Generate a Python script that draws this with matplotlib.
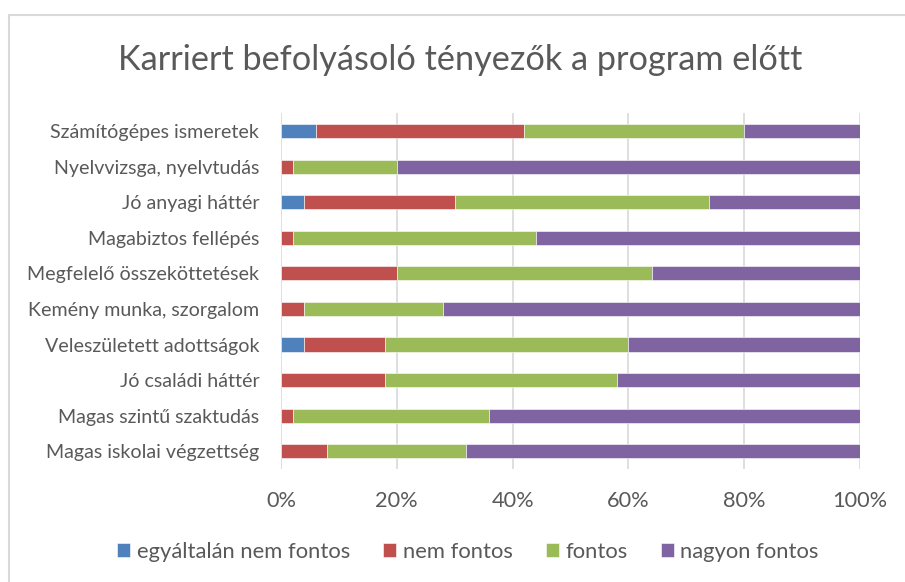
import matplotlib
matplotlib.use("Agg")
import matplotlib.pyplot as plt
from matplotlib.patches import Rectangle
import numpy as np

categories = [
    "Számítógépes ismeretek",
    "Nyelvvizsga, nyelvtudás",
    "Jó anyagi háttér",
    "Magabiztos fellépés",
    "Megfelelő összeköttetések",
    "Kemény munka, szorgalom",
    "Veleszületett adottságok",
    "Jó családi háttér",
    "Magas szintű szaktudás",
    "Magas iskolai végzettség",
]
series_names = ["egyáltalán nem fontos", "nem fontos", "fontos", "nagyon fontos"]
egyaltalan_nem = [6, 0, 4, 0, 0, 0, 4, 0, 0, 0]
nem_fontos = [36, 2, 26, 2, 20, 4, 14, 18, 2, 8]
fontos = [38, 18, 44, 42, 44, 24, 42, 40, 34, 24]
nagyon_fontos = [20, 80, 26, 56, 36, 72, 40, 42, 64, 68]
colors = ["#4F81BD", "#C0504D", "#9BBB59", "#8064A2"]
x_ticks = [0, 20, 40, 60, 80, 100]

plt.rcParams['font.family'] = ['Lato', 'DejaVu Sans']
text_color = "#595959"

fig = plt.figure(figsize=(9.05, 5.82), dpi=100)
fig.patch.set_facecolor("white")
W, H = 905, 582
ax = fig.add_axes([281 / W, 1 - 469 / H, (860 - 281) / W, (469 - 113.3) / H])

data = np.array([egyaltalan_nem, nem_fontos, fontos, nagyon_fontos], dtype=float)
data = data / data.sum(axis=0) * 100
y = np.arange(len(categories))
left = np.zeros(len(categories))
for i, name in enumerate(series_names):
    ax.barh(y, data[i], left=left, height=0.4, color=colors[i], label=name,
            edgecolor="white", linewidth=0.4, zorder=3)
    left += data[i]

ax.set_ylim(len(categories) - 0.5, -0.5)
ax.set_xlim(0, 100)
ax.set_yticks(y)
ax.set_yticklabels(categories, fontsize=14.1, color=text_color)
ax.set_xticks(x_ticks)
ax.set_xticklabels([f"{v}%" for v in x_ticks], fontsize=15.7, color=text_color)
ax.tick_params(axis="y", length=0, pad=15.7)
ax.tick_params(axis="x", length=0, pad=16)
ax.grid(axis="x", color="#D9D9D9", linewidth=1.2, zorder=0)
for s in ax.spines.values():
    s.set_visible(False)

fig.text(460 / W, 1 - 60 / H, "Karriert befolyásoló tényezők a program előtt",
         ha="center", va="center", fontsize=24.7, color=text_color)

handles, labels = ax.get_legend_handles_labels()
leg = fig.legend(handles, labels, loc="center", bbox_to_anchor=(468 / W, 1 - 552 / H),
                 ncol=4, frameon=False, fontsize=15.8, handlelength=0.6, handleheight=0.6,
                 handletextpad=0.3, columnspacing=1.5, labelcolor=text_color)

fig.patches.append(Rectangle((9 / W, -0.1), 1.2, 1 - 14.5 / H + 0.1, transform=fig.transFigure,
                             fill=False, edgecolor="#D9D9D9", linewidth=1.5))

fig.savefig("out.png", dpi=100)
